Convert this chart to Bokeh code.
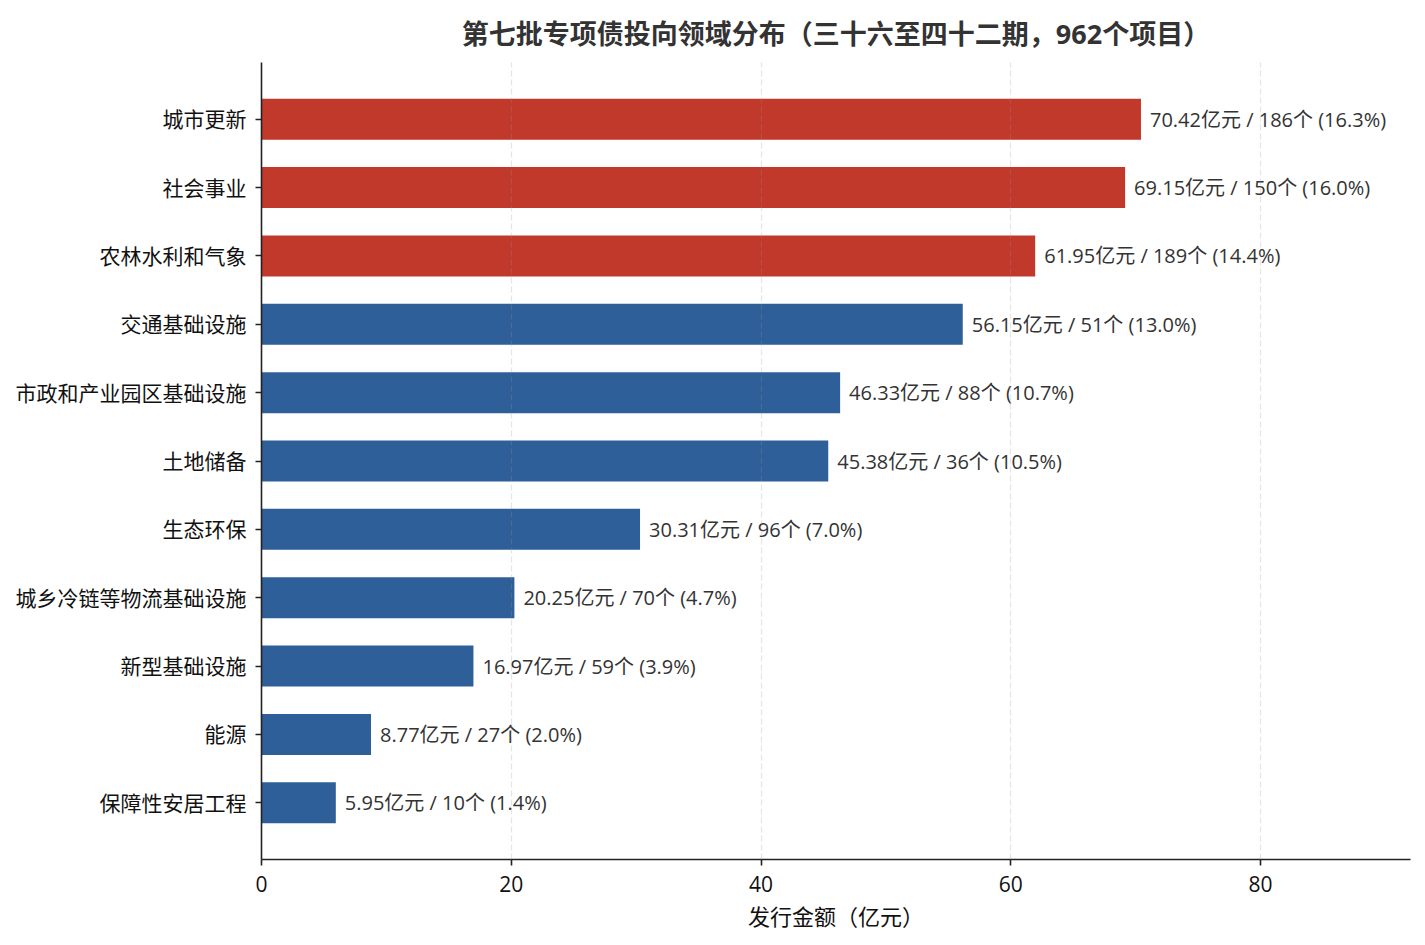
from bokeh.plotting import figure
from bokeh.models import FactorRange, Range1d, ColumnDataSource, FixedTicker
from bokeh.core.properties import value
from bokeh.embed import file_html
from bokeh.resources import INLINE

title_text = "第七批专项债投向领域分布（三十六至四十二期，962个项目）"
categories = ["城市更新", "社会事业", "农林水利和气象", "交通基础设施", "市政和产业园区基础设施",
              "土地储备", "生态环保", "城乡冷链等物流基础设施", "新型基础设施", "能源", "保障性安居工程"]
amounts = [70.42, 69.15, 61.95, 56.15, 46.33, 45.38, 30.31, 20.25, 16.97, 8.77, 5.95]
counts = [186, 150, 189, 51, 88, 36, 96, 70, 59, 27, 10]
shares = [16.3, 16.0, 14.4, 13.0, 10.7, 10.5, 7.0, 4.7, 3.9, 2.0, 1.4]
x_ticks = [0, 20, 40, 60, 80]
x_max = 92

RED = "#c0392b"
BLUE = "#2e5f98"
colors = [RED if i < 3 else BLUE for i in range(len(categories))]
labels = [f"{a:.2f}亿元 / {c}个 ({s:.1f}%)" for a, c, s in zip(amounts, counts, shares)]

src = ColumnDataSource(dict(cat=categories, amt=amounts, color=colors, label=labels))

FONT = "'Open Sans', 'Noto Sans CJK SC', sans-serif"

p = figure(width=1417, height=937, output_backend="svg", toolbar_location=None,
           y_range=FactorRange(factors=categories[::-1], range_padding=0.33,
                               range_padding_units="absolute"),
           x_range=Range1d(0, x_max),
           min_border_left=261, min_border_right=7, min_border_top=62, min_border_bottom=78,
           title=title_text)

p.hbar(y="cat", right="amt", left=0, height=0.6, color="color", source=src, line_color=None)
p.text(x="amt", y="cat", text="label", source=src, x_offset=9, text_baseline="middle",
       text_align="left", text_font=value(FONT), text_font_size="20px", text_color="#333333")

p.title.align = "center"
p.title.vertical_align = "top"
p.title.text_font = FONT
p.title.text_font_size = "27px"
p.title.text_font_style = "bold"
p.title.text_color = "#333333"
p.title.offset = 0
p.title.standoff = 18

p.outline_line_color = None
p.ygrid.grid_line_color = None
p.xgrid.grid_line_color = "#999999"
p.xgrid.grid_line_alpha = 0.25
p.xgrid.grid_line_dash = "6 3"
p.xgrid.grid_line_width = 1.2
p.xgrid.level = "overlay"

p.xaxis.ticker = FixedTicker(ticks=x_ticks)
p.xaxis.axis_label = "发行金额（亿元）"
p.xaxis.axis_label_text_font = FONT
p.xaxis.axis_label_text_font_size = "22px"
p.xaxis.axis_label_text_font_style = "normal"
p.xaxis.axis_label_text_color = "#111111"
p.xaxis.axis_label_standoff = 6

for ax in (p.xaxis, p.yaxis):
    ax.axis_line_color = "#222222"
    ax.axis_line_width = 1.6
    ax.major_tick_line_color = "#222222"
    ax.major_tick_line_width = 1.6
    ax.major_tick_out = 6
    ax.major_tick_in = 0
    ax.minor_tick_line_color = None
    ax.major_label_text_font = FONT
    ax.major_label_text_font_size = "21px"
    ax.major_label_text_color = "#111111"
    ax.major_label_standoff = 10

p.yaxis.major_label_text_font_size = "21px"
p.yaxis.major_label_standoff = 9

out = file_html(p, INLINE)
open("out.html", "w").write(out)
